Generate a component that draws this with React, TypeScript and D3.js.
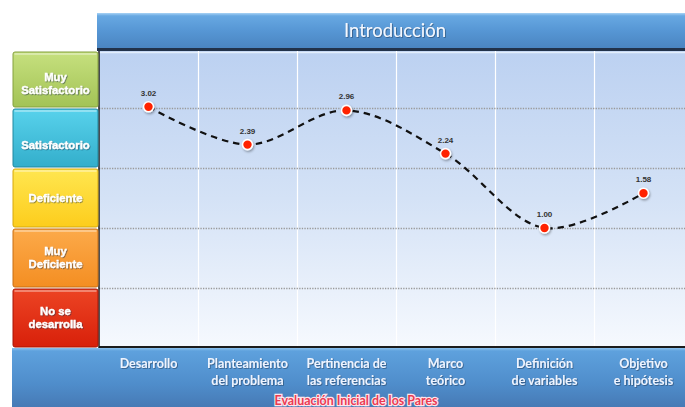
import React, { useEffect, useRef } from 'react';
import * as d3 from 'd3';

// chart data
const categories = [
    'Desarrollo',
    'Planteamiento\ndel problema',
    'Pertinencia de\nlas referencias',
    'Marco\nteórico',
    'Definición\nde variables',
    'Objetivo\ne hipótesis',
];
const values = [3.02, 2.39, 2.96, 2.24, 1.0, 1.58];
const levels = ['Muy\nSatisfactorio', 'Satisfactorio', 'Deficiente', 'Muy\nDeficiente', 'No se\ndesarrolla'];
const levelTops = [4, 3, 2, 1, 0];
const gridValues = [3, 2, 1, 0];
const title = 'Introducción';
const subtitle = 'Evaluación Inicial de los Pares';

const W = 685;
const H = 407;

const App: React.FC = () => {
    const ref = useRef<SVGSVGElement>(null);

    useEffect(() => {
        if (!ref.current) return;
        const svg = d3.select(ref.current);
        svg.selectAll('*').remove();

        const plotLeft = 99, plotRight = 693, plotTop = 51, plotBottom = 347;

        const x = d3.scaleBand<string>().domain(categories).range([plotLeft, plotRight]).padding(0);
        const y = d3.scaleLinear().domain([-1, 4]).range([348, 48]);

        const defs = svg.append('defs');
        const grad = (id: string, stops: [number, string][]) => {
            const g = defs.append('linearGradient').attr('id', id)
                .attr('x1', 0).attr('y1', 0).attr('x2', 0).attr('y2', 1);
            stops.forEach(([o, c]) => g.append('stop').attr('offset', o).attr('stop-color', c));
        };
        grad('plotBg', [[0, '#bcd1f1'], [0.5, '#d4e2f6'], [1, '#f6f9fe']]);
        grad('titleBg', [[0, '#a9d3f5'], [0.08, '#67a8e2'], [0.5, '#5696d4'], [1, '#4a84c0']]);
        grad('bottomBg', [[0, '#8cc2ee'], [0.05, '#5ea1dd'], [0.6, '#4f8dcb'], [1, '#4679b4']]);
        const levelColors: [string, string, string][] = [
            ['#c6e07e', '#a3c356', '#84a13e'],
            ['#58d2ec', '#33aecb', '#20889f'],
            ['#ffe650', '#fdcd1c', '#d6a80c'],
            ['#fcaa4a', '#f48e22', '#c86e12'],
            ['#ec4424', '#d8200a', '#a81404'],
        ];
        levelColors.forEach((c, i) => grad(`lv${i}`, [[0, c[0]], [1, c[1]]]));
        // labels in the top two boxes sit a bit low in the original
        const labelNudge = [3.5, 6.5, 0, -1, -1];

        const shadow = defs.append('filter').attr('id', 'shadow')
            .attr('x', '-50%').attr('y', '-50%').attr('width', '200%').attr('height', '200%');
        shadow.append('feDropShadow').attr('dx', 1).attr('dy', 1.5).attr('stdDeviation', 1.2)
            .attr('flood-color', '#000').attr('flood-opacity', 0.35);
        const textShadow = defs.append('filter').attr('id', 'tshadow')
            .attr('x', '-20%').attr('y', '-40%').attr('width', '140%').attr('height', '180%');
        textShadow.append('feDropShadow').attr('dx', 0.8).attr('dy', 0.8).attr('stdDeviation', 0.6)
            .attr('flood-color', '#1a3050').attr('flood-opacity', 0.6);

        // title bar
        svg.append('rect').attr('x', 97).attr('y', 13).attr('width', W - 97).attr('height', 36)
            .attr('fill', 'url(#titleBg)');
        svg.append('rect').attr('x', 97).attr('y', 48).attr('width', W - 97).attr('height', 3)
            .attr('fill', '#22324a');
        svg.append('text').attr('x', 395).attr('y', 37).attr('text-anchor', 'middle')
            .attr('font-family', 'Lato, "Open Sans", sans-serif').attr('font-size', 18.5)
            .attr('fill', '#f4f8ff').attr('filter', 'url(#tshadow)').text(title);

        // plot area
        svg.append('rect').attr('x', plotLeft).attr('y', plotTop).attr('width', plotRight - plotLeft)
            .attr('height', plotBottom - plotTop).attr('fill', 'url(#plotBg)');
        svg.append('line').attr('x1', plotLeft).attr('x2', W).attr('y1', plotTop + 1.5).attr('y2', plotTop + 1.5)
            .attr('stroke', '#e2eefc').attr('stroke-width', 1.5);

        // vertical white lines between categories
        svg.append('g').selectAll('line')
            .data(categories.slice(1))
            .enter().append('line')
            .attr('x1', d => Math.round(x(d) || 0) + 0.5)
            .attr('x2', d => Math.round(x(d) || 0) + 0.5)
            .attr('y1', plotTop).attr('y2', plotBottom)
            .attr('stroke', '#ffffff').attr('stroke-width', 1.2);

        // dotted horizontal grid
        svg.append('g').selectAll('line')
            .data(gridValues)
            .enter().append('line')
            .attr('x1', plotLeft).attr('x2', W)
            .attr('y1', d => Math.round(y(d)) + 0.5).attr('y2', d => Math.round(y(d)) + 0.5)
            .attr('stroke', '#9a9a9a').attr('stroke-width', 1.3).attr('stroke-dasharray', '1.3,1.3');

        // plot borders
        svg.append('line').attr('x1', plotLeft).attr('x2', plotLeft).attr('y1', plotTop).attr('y2', plotBottom + 1)
            .attr('stroke', '#1c1c1c').attr('stroke-width', 1.5);
        svg.append('line').attr('x1', plotLeft).attr('x2', W).attr('y1', plotBottom).attr('y2', plotBottom)
            .attr('stroke', '#1c1c1c').attr('stroke-width', 2);

        // level boxes on the left
        const boxes = svg.append('g');
        levels.forEach((lv, i) => {
            const top = Math.max(y(levelTops[i]) + 1, 52);
            const bottom = y(levelTops[i] - 1) - 1;
            boxes.append('rect').attr('x', 13).attr('y', top).attr('width', 85).attr('height', bottom - top)
                .attr('rx', 2).attr('fill', `url(#lv${i})`)
                .attr('stroke', levelColors[i][2]).attr('stroke-width', 1);
            boxes.append('rect').attr('x', 14.5).attr('y', top + 1).attr('width', 82).attr('height', 2)
                .attr('fill', '#ffffff').attr('opacity', 0.35);
            const lines = lv.split('\n');
            const mid = (top + bottom) / 2 + labelNudge[i];
            const t = boxes.append('text').attr('text-anchor', 'middle')
                .attr('font-family', '"Liberation Sans", Arial, sans-serif').attr('font-weight', 'bold')
                .attr('font-size', 11.3).attr('fill', '#ffffff')
                .attr('stroke', '#ffffff').attr('stroke-width', 0.35)
                .attr('filter', 'url(#tshadow)');
            lines.forEach((l, j) => {
                t.append('tspan').attr('x', 55.5)
                    .attr('y', mid + 4 + (j - (lines.length - 1) / 2) * 13).text(l);
            });
        });

        // bottom bar
        svg.append('rect').attr('x', 12).attr('y', plotBottom + 1).attr('width', W - 12).attr('height', H - plotBottom)
            .attr('fill', 'url(#bottomBg)');

        // category labels
        const labels = svg.append('g').attr('font-family', 'Lato, "Open Sans", sans-serif')
            .attr('font-size', 12.5).attr('font-weight', 'bold').attr('fill', '#eef4ff')
            .attr('text-anchor', 'middle').attr('filter', 'url(#tshadow)');
        categories.forEach(c => {
            const cx = (x(c) || 0) + x.bandwidth() / 2;
            const t = labels.append('text');
            c.split('\n').forEach((l, j) => {
                t.append('tspan').attr('x', cx).attr('y', 368 + j * 17).text(l);
            });
        });

        svg.append('text').attr('x', 356).attr('y', 405).attr('text-anchor', 'middle')
            .attr('font-family', 'Lato, "Open Sans", sans-serif').attr('font-size', 12.4).attr('font-weight', 'bold')
            .attr('fill', '#ea3a52').attr('stroke', '#ffe4ea').attr('stroke-width', 2.4)
            .attr('paint-order', 'stroke').text(subtitle);

        // smoothed dashed line
        const pts: [number, number][] = values.map((v, i) => [
            (x(categories[i]) || 0) + x.bandwidth() / 2, y(v),
        ]);
        const line = d3.line().curve(d3.curveCatmullRom.alpha(0.5));
        svg.append('path').attr('d', line(pts) || '').attr('fill', 'none')
            .attr('stroke', '#111').attr('stroke-width', 2.2).attr('stroke-dasharray', '6.5,5');

        // markers
        svg.append('g').selectAll('circle')
            .data(pts)
            .enter().append('circle')
            .attr('cx', d => d[0]).attr('cy', d => d[1]).attr('r', 5)
            .attr('fill', '#ff2200').attr('stroke', '#ffffff').attr('stroke-width', 1.6)
            .attr('filter', 'url(#shadow)');

        // value labels
        svg.append('g').selectAll('text')
            .data(values)
            .enter().append('text')
            .attr('x', (d, i) => pts[i][0]).attr('y', (d, i) => pts[i][1] - 11)
            .attr('text-anchor', 'middle')
            .attr('font-family', '"Liberation Sans", Arial, sans-serif').attr('font-weight', 'bold')
            .attr('font-size', 8).attr('fill', '#333333')
            .text(d => d3.format('.2f')(d));
    }, []);

    return (
        <svg ref={ref} width={W} height={H}
            style={{ position: 'absolute', left: 0, top: 0, display: 'block' }} />
    );
};

export default App;
